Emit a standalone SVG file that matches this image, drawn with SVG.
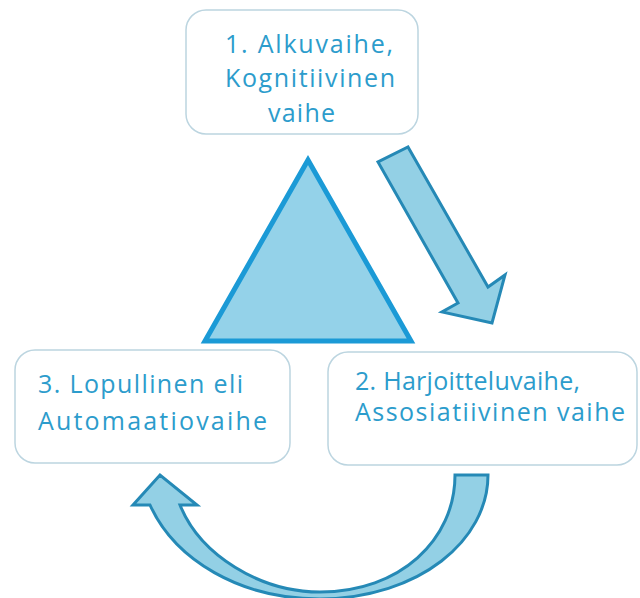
<svg xmlns="http://www.w3.org/2000/svg" width="640" height="598" viewBox="0 0 640 598">
<style>
.box{fill:#ffffff;stroke:#bcd5e0;stroke-width:1.5}
.lbl{font-family:"Open Sans","DejaVu Sans",sans-serif;font-size:25px;fill:#2c9ccc}
.arrow{fill:#93d0e5;stroke:#2589b6;stroke-width:3;stroke-linejoin:miter}
</style>
<rect width="640" height="598" fill="#ffffff"/>
<g id="triangle">
<polygon points="308,160 205,341 411,341" fill="#94d2e9" stroke="#1b9ad6" stroke-width="5" stroke-linejoin="miter"/>
</g>
<g id="connectors">
<polygon class="arrow" points="408,147 488,287 505,275 492,323 442,312 458,303 378,162"/>
<path class="arrow" d="M 488 475 C 488 540 420 598 320 599 C 240 599 175 560 150 505 L 133 505 L 160 475 L 197 505 L 180 505 C 200 555 260 592 320 592 C 400 592 455 540 455 475 Z"/>
</g>
<g id="node1">
<rect class="box" x="186" y="10" width="232" height="124" rx="20"/>
<text class="lbl" x="225" y="53" textLength="168" lengthAdjust="spacing">1. Alkuvaihe,</text>
<text class="lbl" x="225" y="87" textLength="170" lengthAdjust="spacing">Kognitiivinen</text>
<text class="lbl" x="268" y="122" textLength="67" lengthAdjust="spacing">vaihe</text>
</g>
<g id="node2">
<rect class="box" x="328" y="352" width="309" height="113" rx="20"/>
<text class="lbl" x="355" y="390" textLength="225" lengthAdjust="spacing">2. Harjoitteluvaihe,</text>
<text class="lbl" x="355" y="421" textLength="270" lengthAdjust="spacing">Assosiatiivinen vaihe</text>
</g>
<g id="node3">
<rect class="box" x="15" y="350" width="275" height="113" rx="20"/>
<text class="lbl" x="38" y="393" textLength="205" lengthAdjust="spacing">3. Lopullinen eli</text>
<text class="lbl" x="38" y="430" textLength="229" lengthAdjust="spacing">Automaatiovaihe</text>
</g>
</svg>
